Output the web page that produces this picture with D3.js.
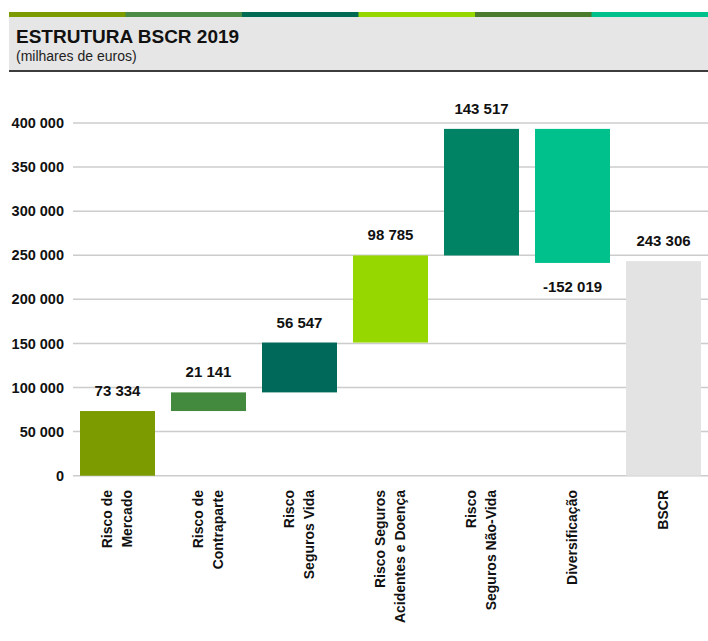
<!DOCTYPE html>
<html>
<head>
<meta charset="utf-8">
<script src="https://cdn.jsdelivr.net/npm/d3@7"></script>
<style>
  body { margin: 0; background: #fff; }
  text { font-family: "Liberation Sans", Arial, sans-serif; }
</style>
</head>
<body>
<div id="chart"></div>
<script>
// waterfall data (milhares de euros)
var categories = [
  ["Risco de", "Mercado"],
  ["Risco de", "Contraparte"],
  ["Risco", "Seguros Vida"],
  ["Risco Seguros", "Acidentes e Doença"],
  ["Risco", "Seguros Não-Vida"],
  ["Diversificação"],
  ["BSCR"]
];
var values = [73334, 21141, 56547, 98785, 143517, -152019, 243306];
var isTotal = [false, false, false, false, false, false, true];
var barColors = ["#7b9b00", "#438a3e", "#00695a", "#97d700", "#008264", "#00c08b", "#e3e3e3"];
var yTicks = [0, 50000, 100000, 150000, 200000, 250000, 300000, 350000, 400000];
var stripColors = ["#7b9b00", "#4a8b45", "#006a52", "#97d700", "#4a7a2b", "#00c08b"];

var w = 708, h = 641;

var svg = d3.select("#chart").append("svg")
  .attr("width", w)
  .attr("height", h);

// header
var strip = d3.scaleBand().domain(d3.range(stripColors.length)).range([9, w]);
svg.selectAll("rect.strip")
  .data(stripColors)
  .enter().append("rect")
    .attr("class", "strip")
    .attr("x", function(d, i) { return strip(i); })
    .attr("y", 12)
    .attr("width", strip.bandwidth() + 0.5)
    .attr("height", 5)
    .attr("fill", function(d) { return d; });

svg.append("rect")
  .attr("x", 9).attr("y", 17)
  .attr("width", w - 9).attr("height", 53)
  .attr("fill", "#e6e6e6");
svg.append("rect")
  .attr("x", 9).attr("y", 70)
  .attr("width", w - 9).attr("height", 2)
  .attr("fill", "#3c3c3c");

svg.append("text")
  .attr("x", 16).attr("y", 43)
  .attr("font-size", 19).attr("font-weight", "bold")
  .attr("fill", "#111")
  .text("ESTRUTURA BSCR 2019");
svg.append("text")
  .attr("x", 16).attr("y", 60.5)
  .attr("font-size", 14)
  .attr("fill", "#222")
  .text("(milhares de euros)");

// scales
var x = d3.scaleBand()
  .domain(d3.range(values.length))
  .range([72, 72 + 91 * values.length])
  .paddingInner(16 / 91)
  .paddingOuter(8 / 91);

var y = d3.scaleLinear()
  .domain([0, 400000])
  .range([475.7, 123]);

var loc = d3.formatLocale({decimal: ",", thousands: " ", grouping: [3], currency: ["", " €"], minus: "-"});
var fmt = loc.format(",d");

// grid
svg.append("g")
  .selectAll("line")
  .data(yTicks)
  .enter().append("line")
    .attr("x1", 73).attr("x2", w)
    .attr("y1", function(d) { return y(d); })
    .attr("y2", function(d) { return y(d); })
    .attr("stroke", "#cccccc")
    .attr("stroke-width", 1.5);

// y axis labels
var yAxis = d3.axisLeft(y).tickValues(yTicks).tickFormat(fmt).tickSize(0).tickPadding(0);
var gy = svg.append("g").attr("transform", "translate(64,0)").call(yAxis);
gy.select(".domain").remove();
gy.selectAll("text")
  .attr("font-family", "Liberation Sans, Arial, sans-serif")
  .attr("font-size", 14.5)
  .attr("font-weight", "bold")
  .attr("fill", "#111");

// waterfall cumulative positions
var bars = [];
var run = 0;
values.forEach(function(v, i) {
  var start, end;
  if (isTotal[i]) { start = 0; end = v; }
  else { start = run; end = run + v; run = end; }
  bars.push({i: i, v: v, start: start, end: end});
});

svg.selectAll("rect.bar")
  .data(bars)
  .enter().append("rect")
    .attr("class", "bar")
    .attr("x", function(d) { return x(d.i); })
    .attr("width", x.bandwidth())
    .attr("y", function(d) { return y(Math.max(d.start, d.end)); })
    .attr("height", function(d) { return Math.abs(y(d.start) - y(d.end)); })
    .attr("fill", function(d, i) { return barColors[i]; });

// value labels
svg.selectAll("text.val")
  .data(bars)
  .enter().append("text")
    .attr("class", "val")
    .attr("x", function(d) { return x(d.i) + x.bandwidth() / 2; })
    .attr("y", function(d) {
      return d.v < 0 ? y(Math.min(d.start, d.end)) + 29 : y(Math.max(d.start, d.end)) - 15;
    })
    .attr("text-anchor", "middle")
    .attr("font-size", 15)
    .attr("font-weight", "bold")
    .attr("fill", "#111")
    .text(function(d) { return fmt(d.v); });

// category labels, rotated
var cat = svg.selectAll("g.cat")
  .data(categories)
  .enter().append("g")
    .attr("class", "cat")
    .attr("transform", function(d, i) {
      return "translate(" + (x(i) + x.bandwidth() / 2) + ",490) rotate(-90)";
    });
cat.each(function(lines) {
  var g = d3.select(this);
  var n = lines.length;
  lines.forEach(function(l, k) {
    g.append("text")
      .attr("x", 0)
      .attr("y", (k - (n - 1) / 2) * 20)
      .attr("dy", "0.35em")
      .attr("text-anchor", "end")
      .attr("font-size", 14)
      .attr("font-weight", "bold")
      .attr("fill", "#111")
      .text(l);
  });
});
</script>
</body>
</html>
